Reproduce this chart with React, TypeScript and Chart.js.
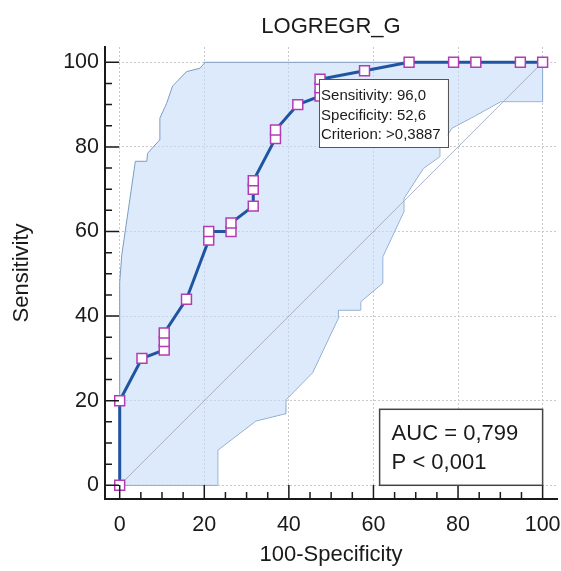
import { useEffect, useRef } from 'react';
import { Chart, registerables } from 'chart.js';

Chart.register(...registerables);

// ROC curve: x = 100-Specificity, y = Sensitivity
const ROC_X = [0, 0, 5.26, 10.53, 10.53, 10.53, 15.79, 21.05, 21.05, 26.32, 26.32, 31.58, 31.58, 31.58, 36.84, 36.84, 42.11, 47.37, 47.37, 47.37, 57.89, 68.42, 78.95, 84.21, 94.74, 100];
const ROC_Y = [0, 20, 30, 32, 34, 36, 44, 58, 60, 60, 62, 66, 70, 72, 82, 84, 90, 92, 94, 96, 98, 100, 100, 100, 100, 100];

// Confidence band
const UPPER_X = [0, 0, 0.5, 3.7, 6.4, 6.6, 9.4, 9.5, 11.1, 12.5, 13.5, 15.8, 19, 20, 20, 100];
const UPPER_Y = [0, 48, 54.5, 76.6, 76.6, 78.5, 81.6, 86.8, 90.3, 94.4, 95.4, 97.8, 98.6, 99.8, 100, 100];
const LOWER_X = [0, 23.2, 23.2, 32.2, 39.1, 39.3, 45.6, 51.7, 51.7, 57, 57, 62.2, 62.2, 67.2, 67.2, 71.8, 75.7, 75.7, 78.5, 83.6, 90.1, 100, 100];
const LOWER_Y = [0, 0, 8.3, 15.2, 16.9, 20.2, 26.6, 39.5, 41.4, 41.4, 43.4, 47.8, 54, 64.7, 67.8, 74.9, 77.7, 79.7, 84.4, 87.1, 90.7, 90.7, 100];

// Reference diagonal
const DIAG_X = [0, 100];
const DIAG_Y = [0, 100];

const TICKS = [0, 20, 40, 60, 80, 100];
const MINOR_TICKS = [0, 5, 10, 15, 20, 25, 30, 35, 40, 45, 50, 55, 60, 65, 70, 75, 80, 85, 90, 95, 100];

const TITLE = 'LOGREGR_G';
const X_TITLE = '100-Specificity';
const Y_TITLE = 'Sensitivity';
const CRITERION_POINT = { x: 47.37, y: 96 };
const CRITERION_LINES = ['Sensitivity: 96,0', 'Specificity: 52,6', 'Criterion: >0,3887'];
const AUC_LINES = ['AUC = 0,799', 'P < 0,001'];

const FONT = "'Liberation Sans', Arial, Helvetica, sans-serif";

const toPts = (xs: number[], ys: number[]) => xs.map((x, i) => ({ x, y: ys[i] }));

export default function App() {
  const ref = useRef<HTMLCanvasElement>(null);

  useEffect(() => {
    document.body.style.margin = '0';
    const canvas = ref.current;
    if (!canvas) return;

    const innerTicks = {
      id: 'innerTicks',
      afterDatasetsDraw(chart: any) {
        const { ctx, chartArea } = chart;
        const xs = chart.scales.x;
        const ys = chart.scales.y;
        ctx.save();
        ctx.strokeStyle = '#1a1a1a';
        ctx.lineWidth = 1.5;
        ctx.beginPath();
        for (const v of MINOR_TICKS) {
          const len = v % 20 === 0 ? 14 : 7;
          const px = xs.getPixelForValue(v);
          ctx.moveTo(px, chartArea.bottom);
          ctx.lineTo(px, chartArea.bottom - len);
          const py = ys.getPixelForValue(v);
          ctx.moveTo(chartArea.left, py);
          ctx.lineTo(chartArea.left + len, py);
        }
        ctx.stroke();
        ctx.restore();
      },
    };

    const annotations = {
      id: 'annotations',
      afterDatasetsDraw(chart: any) {
        const { ctx } = chart;
        const xs = chart.scales.x;
        const ys = chart.scales.y;
        ctx.save();
        // Criterion box
        const cx = xs.getPixelForValue(CRITERION_POINT.x) - 1;
        const cy = ys.getPixelForValue(CRITERION_POINT.y);
        ctx.font = `15px ${FONT}`;
        const w = Math.max(...CRITERION_LINES.map((t) => ctx.measureText(t).width)) + 9;
        const h = 68;
        ctx.fillStyle = '#ffffff';
        ctx.fillRect(cx, cy, w, h);
        ctx.strokeStyle = '#555555';
        ctx.lineWidth = 1;
        ctx.strokeRect(Math.round(cx) + 0.5, Math.round(cy) + 0.5, Math.round(w), h);
        ctx.fillStyle = '#1a1a1a';
        ctx.textBaseline = 'alphabetic';
        ctx.textAlign = 'left';
        CRITERION_LINES.forEach((t, i) => ctx.fillText(t, cx + 2, cy + 21 + i * 19.5));

        // AUC box
        const right = xs.getPixelForValue(100);
        const bottom = ys.getPixelForValue(0);
        const bw = 163;
        const bh = 76;
        const left = right - bw;
        const top = bottom - bh;
        ctx.fillStyle = '#ffffff';
        ctx.fillRect(left, top, bw, bh);
        ctx.strokeStyle = '#444444';
        ctx.lineWidth = 1.5;
        ctx.strokeRect(left, top, bw, bh);
        ctx.fillStyle = '#1a1a1a';
        ctx.font = `22px ${FONT}`;
        AUC_LINES.forEach((t, i) => ctx.fillText(t, left + 12, top + 31 + i * 28.5));
        ctx.restore();
      },
    };

    const chart = new Chart(canvas, {
      type: 'line',
      data: {
        datasets: [
          {
            data: toPts(ROC_X, ROC_Y),
            borderColor: '#1f55a0',
            borderWidth: 3,
            pointStyle: 'rect',
            pointRadius: 7,
            pointBorderWidth: 1.5,
            pointBorderColor: '#b23cb4',
            pointBackgroundColor: '#ffffff',
            fill: false,
            tension: 0,
          },
          {
            data: toPts(DIAG_X, DIAG_Y),
            borderColor: '#a8b0c6',
            borderWidth: 1,
            pointRadius: 0,
            fill: false,
          },
          {
            data: toPts(UPPER_X, UPPER_Y),
            borderColor: '#7c9cc4',
            borderWidth: 1,
            pointRadius: 0,
            backgroundColor: 'rgba(196,220,248,0.6)',
            fill: '+1',
          },
          {
            data: toPts(LOWER_X, LOWER_Y),
            borderColor: '#7c9cc4',
            borderWidth: 1,
            pointRadius: 0,
            fill: false,
          },
        ],
      },
      options: {
        animation: false,
        responsive: false,
        devicePixelRatio: 1,
        layout: { autoPadding: false, padding: { left: 0, right: 4, top: 0, bottom: 0 } },
        plugins: {
          legend: { display: false },
          tooltip: { enabled: false },
          title: {
            display: true,
            text: TITLE,
            fullSize: false,
            color: '#1a1a1a',
            font: { family: FONT, size: 22, weight: 'normal' },
            padding: { top: 13.8, bottom: 6.8 },
          },
        },
        scales: {
          x: {
            type: 'linear',
            min: -3.475,
            max: 103.4,
            afterFit: (s: any) => { s.height = 72; s.paddingLeft = 0; s.paddingRight = 0; },
            afterBuildTicks: (s: any) => { s.ticks = TICKS.map((v) => ({ value: v })); },
            grid: { color: '#c9c9c9', lineWidth: 1, drawTicks: false },
            border: { display: true, color: '#1a1a1a', width: 2, dash: [2, 2] },
            ticks: { color: '#1a1a1a', padding: 13, font: { family: FONT, size: 21.5 }, maxRotation: 0 },
            title: {
              display: true,
              text: X_TITLE,
              color: '#1a1a1a',
              font: { family: FONT, size: 22 },
              padding: { top: 0, bottom: 3.3 },
            },
          },
          y: {
            type: 'linear',
            min: -3.24,
            max: 103.62,
            afterFit: (s: any) => { s.width = 105; s.paddingTop = 0; s.paddingBottom = 0; },
            afterBuildTicks: (s: any) => { s.ticks = TICKS.map((v) => ({ value: v })); },
            grid: { color: '#c9c9c9', lineWidth: 1, drawTicks: false },
            border: { display: true, color: '#1a1a1a', width: 2, dash: [2, 2] },
            ticks: { color: '#1a1a1a', padding: 6, font: { family: FONT, size: 21.5 } },
            title: {
              display: true,
              text: Y_TITLE,
              color: '#1a1a1a',
              font: { family: FONT, size: 22 },
              padding: { top: 8.5, bottom: 0 },
            },
          },
        },
      },
      plugins: [innerTicks, annotations],
    });

    return () => chart.destroy();
  }, []);

  return (
    <div style={{ position: 'absolute', left: 0, top: 0, width: 561, height: 571, background: '#ffffff' }}>
      <canvas ref={ref} width={561} height={571} style={{ display: 'block', width: 561, height: 571 }} />
    </div>
  );
}
